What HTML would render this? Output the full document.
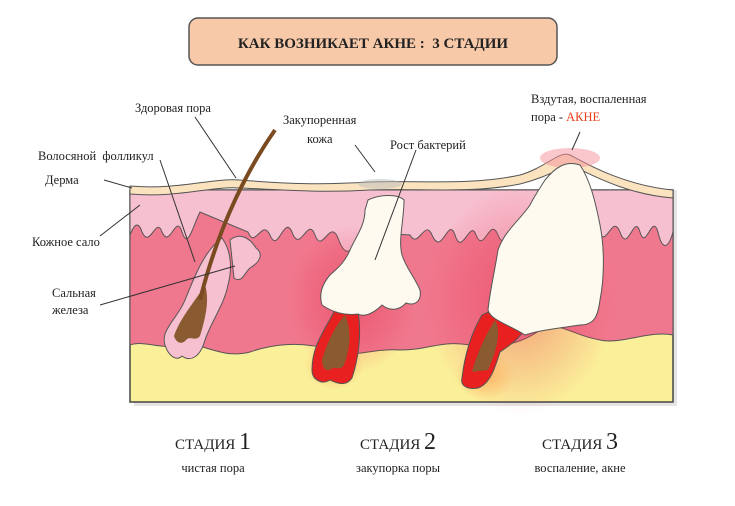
<!DOCTYPE html>
<html><head><meta charset="utf-8"><style>
html,body{margin:0;padding:0;background:#fff;}
svg{display:block;}
text{font-family:"Liberation Serif","DejaVu Serif",serif;}
</style></head><body>
<svg width="735" height="506" viewBox="0 0 735 506" xmlns="http://www.w3.org/2000/svg">
<defs>
<radialGradient id="inf" cx="50%" cy="50%" r="50%">
<stop offset="0" stop-color="#e8304a" stop-opacity="0.8"/>
<stop offset="1" stop-color="#e8304a" stop-opacity="0"/>
</radialGradient>
<radialGradient id="glow" cx="50%" cy="50%" r="50%">
<stop offset="0" stop-color="#ffb060" stop-opacity="0.9"/>
<stop offset="1" stop-color="#ffb060" stop-opacity="0"/>
</radialGradient>
</defs>
<rect x="189" y="18" width="368" height="47" rx="9" fill="#f8c9a8" stroke="#555" stroke-width="1.5"/>
<text x="373" y="48" text-anchor="middle" font-size="15" font-weight="bold" fill="#222">КАК ВОЗНИКАЕТ АКНЕ :&#160;&#160;3 СТАДИИ</text>

<rect x="134" y="190" width="543" height="216" fill="#ccc" opacity="0.5"/>
<path d="M130 190 L673 190 L673 402 L130 402 Z" fill="#fbf09a" stroke="#444" stroke-width="1.5"/>
<path d="M130 190 L673 190 L673 335 C650 330 620 345 600 340 C570 335 560 320 540 330 C520 345 490 350 470 345 C440 340 430 350 400 350 C370 348 350 360 330 350 C300 340 270 345 250 352 C220 360 200 340 180 345 C160 350 145 340 130 345 Z" fill="#f0788e" stroke="#555" stroke-width="1"/>
<path d="M130 190 L673 190 L673 232 C668 250 662 250 658 232 C652 212 646 252 640 232 C634 212 628 255 620 232 C612 212 606 252 598 230 L590 225 L540 225 C530 250 524 255 518 235 C512 215 506 255 498 235 C490 215 484 255 476 235 C470 218 462 258 455 235 C448 215 442 258 432 235 C425 218 418 250 410 235 L360 232 C352 255 345 258 338 238 C330 218 322 255 315 235 C308 215 300 255 292 232 C284 214 278 255 270 235 C262 218 255 250 248 232 L200 212 C192 228 188 250 182 232 C176 212 170 250 162 232 C156 215 150 250 142 232 C138 220 134 225 130 235 Z" fill="#f7c0d0" stroke="#555" stroke-width="1"/>
<ellipse cx="352" cy="300" rx="65" ry="75" fill="url(#inf)" opacity="0.6"/>
<ellipse cx="520" cy="300" rx="95" ry="115" fill="url(#inf)" opacity="0.55"/>
<ellipse cx="334" cy="365" rx="30" ry="25" fill="url(#glow)"/>
<ellipse cx="485" cy="375" rx="30" ry="25" fill="url(#glow)"/>
<path d="M130 186 C180 190 210 178 240 180 C290 184 320 185 370 182 C420 180 470 186 520 175 C545 168 560 150 570 155 C580 160 620 185 673 190 L673 198 C620 194 580 168 570 165 C560 168 545 178 520 184 C470 194 420 188 370 190 C320 193 290 190 240 188 C210 186 180 198 130 194 Z" fill="#fbe3c0" stroke="#555" stroke-width="1"/>
<ellipse cx="380" cy="184" rx="22" ry="5" fill="#bbb" opacity="0.5"/>
<ellipse cx="570" cy="158" rx="30" ry="10" fill="#f5909a" opacity="0.5"/>
<!-- stage1 -->
<path d="M165 345 C160 330 178 318 185 300 C195 275 205 250 222 238 C232 252 232 270 228 285 C224 305 212 320 205 340 C200 358 190 362 182 356 C176 362 168 355 165 345 Z" fill="#f7c0d0" stroke="#555" stroke-width="1"/>
<path d="M230 240 C240 232 250 238 256 248 C264 254 260 262 250 268 C245 272 242 284 234 278 Z" fill="#f7c0d0" stroke="#555" stroke-width="1"/>
<path d="M174 336 C180 318 196 300 205 285 C210 300 205 320 200 336 C195 342 190 335 186 340 C182 345 176 343 174 336 Z" fill="#8a5a30"/>
<path d="M200 300 C215 240 240 180 275 130" stroke="#7a4a20" stroke-width="4" fill="none"/>
<!-- stage2 -->
<path d="M312 370 C312 345 325 330 335 310 L358 312 C362 335 358 360 352 378 C345 388 335 382 330 380 C322 385 312 380 312 370 Z" fill="#e82020" stroke="#555" stroke-width="1"/>
<path d="M322 360 C328 340 336 325 345 315 C352 330 350 350 344 365 C340 372 334 365 330 370 C325 372 322 366 322 360 Z" fill="#8a5a30"/>
<path d="M368 200 C380 194 398 194 404 200 C404 220 398 240 402 255 C406 268 414 276 420 290 C422 302 414 306 406 303 C398 312 388 310 382 305 C375 312 365 318 358 314 C345 316 332 312 322 305 C318 292 324 282 330 275 C338 268 345 262 350 250 C356 236 365 226 365 210 Z" fill="#fffaf0" stroke="#555" stroke-width="1"/>
<!-- stage3 -->
<path d="M462 378 C465 352 472 332 482 315 C500 305 520 310 528 322 C522 338 510 345 500 352 C495 368 490 384 478 388 C468 390 460 386 462 378 Z" fill="#e82020" stroke="#555" stroke-width="1"/>
<path d="M472 372 C478 350 486 335 495 320 C502 332 496 352 488 370 Z" fill="#8a5a30"/>
<path d="M545 180 C555 168 565 160 580 165 C590 180 595 200 600 225 C605 250 604 280 600 300 C598 315 595 325 580 325 C560 328 540 330 525 335 C510 325 490 320 488 310 C490 290 495 270 498 250 C505 230 520 220 530 205 C535 195 540 188 545 180 Z" fill="#fffaf0" stroke="#555" stroke-width="1"/>
<g stroke="#333" stroke-width="1" fill="none">
<line x1="104" y1="180" x2="132" y2="188"/>
<line x1="100" y1="236" x2="140" y2="205"/>
<line x1="160" y1="160" x2="195" y2="262"/>
<line x1="100" y1="305" x2="235" y2="266"/>
<line x1="195" y1="117" x2="236" y2="178"/>
<line x1="355" y1="145" x2="375" y2="172"/>
<line x1="416" y1="150" x2="375" y2="260"/>
<line x1="580" y1="132" x2="572" y2="150"/>
</g>
<g font-size="12.5" fill="#222">
<text x="135" y="112">Здоровая пора</text>
<text x="38" y="160">Волосяной&#160;&#160;фолликул</text>
<text x="45" y="184">Дерма</text>
<text x="32" y="246">Кожное сало</text>
<text x="52" y="297">Сальная</text>
<text x="52" y="314">железа</text>
<text x="283" y="124">Закупоренная</text>
<text x="307" y="143">кожа</text>
<text x="390" y="149">Рост бактерий</text>
<text x="531" y="103">Вздутая, воспаленная</text>
<text x="531" y="121">пора - <tspan fill="#e8401a">АКНЕ</tspan></text>
</g>
<g fill="#222" text-anchor="middle">
<text x="213" y="449" font-size="15">СТАДИЯ <tspan font-size="24">1</tspan></text>
<text x="213" y="472" font-size="12.5">чистая пора</text>
<text x="398" y="449" font-size="15">СТАДИЯ <tspan font-size="24">2</tspan></text>
<text x="398" y="472" font-size="12.5">закупорка поры</text>
<text x="580" y="449" font-size="15">СТАДИЯ <tspan font-size="24">3</tspan></text>
<text x="580" y="472" font-size="12.5">воспаление, акне</text>
</g>
</svg>
</body></html>
